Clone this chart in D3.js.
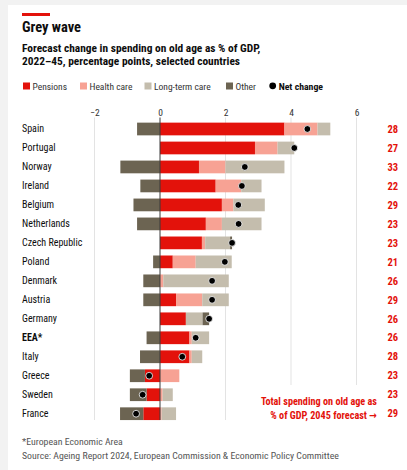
<!DOCTYPE html>
<html>
<head>
<meta charset="utf-8">
<script src="https://cdn.jsdelivr.net/npm/d3@7"></script>
<style>
  html, body { margin: 0; padding: 0; background: #f2f2f2; }
  svg { display: block; }
  text { font-family: "Roboto Condensed", "Liberation Sans Narrow", "DejaVu Sans Condensed", Roboto, sans-serif; }
</style>
</head>
<body>
<svg id="chart" width="407" height="470"></svg>
<script>
// Countries, top to bottom
const countries = ["Spain", "Portugal", "Norway", "Ireland", "Belgium", "Netherlands",
  "Czech Republic", "Poland", "Denmark", "Austria", "Germany", "EEA*", "Italy",
  "Greece", "Sweden", "France"];

// Change in spending 2022-45, percentage points, by component
const pensions = [3.80, 2.90, 1.19, 1.70, 1.89, 1.40, 1.28, 0.39, 0.00, 0.49, 0.79, 0.90, 0.90, -0.46, -0.41, -0.51];
const healthCare = [1.01, 0.69, 0.81, 0.78, 0.35, 0.49, 0.10, 0.70, 0.10, 0.80, 0.00, 0.07, 0.07, 0.59, 0.08, 0.05];
const longTermCare = [0.39, 0.51, 1.80, 0.62, 0.96, 1.21, 0.76, 1.10, 2.00, 0.81, 0.51, 0.53, 0.32, 0.00, 0.31, 0.44];
const other = [-0.70, 0.00, -1.21, -0.60, -0.81, -0.70, 0.06, -0.21, -0.51, -0.51, 0.20, -0.41, -0.61, -0.46, -0.51, -0.71];
const netChange = [4.50, 4.10, 2.59, 2.50, 2.39, 2.40, 2.20, 1.98, 1.59, 1.59, 1.50, 1.09, 0.68, -0.33, -0.53, -0.73];

// Total spending on old age as % of GDP, 2045 forecast
const total2045 = [28, 27, 33, 22, 29, 23, 23, 21, 26, 29, 26, 26, 28, 23, 23, 29];

const xTicks = [-2, 0, 2, 4, 6];

const seriesKeys = ["pensions", "healthCare", "longTermCare", "other"];
const seriesNames = ["Pensions", "Health care", "Long-term care", "Other"];
const colors = {
  pensions: "#e3120b",
  healthCare: "#f7a294",
  longTermCare: "#c4bdad",
  other: "#6c6452"
};

const rows = countries.map((c, i) => ({
  country: c,
  pensions: pensions[i],
  healthCare: healthCare[i],
  longTermCare: longTermCare[i],
  other: other[i],
  net: netChange[i],
  total: total2045[i]
}));

const svg = d3.select("#chart");

// White card
svg.append("rect").attr("x", 8).attr("y", 5).attr("width", 399).attr("height", 465).attr("fill", "#ffffff");

// Header
svg.append("rect").attr("x", 22).attr("y", 13).attr("width", 28).attr("height", 3).attr("fill", "#e3120b");
svg.append("text").attr("x", 22).attr("y", 32)
  .attr("font-size", 14.5).attr("font-weight", 700).attr("fill", "#0d0d0d")
  .text("Grey wave");
const sub = svg.append("text").attr("font-size", 11.4).attr("font-weight", 700).attr("fill", "#0d0d0d");
sub.append("tspan").attr("x", 22).attr("y", 51.5).text("Forecast change in spending on old age as % of GDP,");
sub.append("tspan").attr("x", 22).attr("y", 65).text("2022\u201345, percentage points, selected countries");

// Legend
const legendX = [23, 80, 144.5, 226];
seriesKeys.forEach((k, i) => {
  svg.append("rect").attr("x", legendX[i]).attr("y", 82.5).attr("width", 7).attr("height", 7).attr("fill", colors[k]);
  svg.append("text").attr("x", legendX[i] + 9.5).attr("y", 89.5)
    .attr("font-size", 9.5).attr("fill", "#333").text(seriesNames[i]);
});
svg.append("circle").attr("cx", 272.7).attr("cy", 85.8).attr("r", 3.4).attr("fill", "#000");
svg.append("text").attr("x", 278.7).attr("y", 89.5)
  .attr("font-size", 9.8).attr("font-weight", 700).attr("fill", "#0d0d0d").text("Net change");

// Scales
const x = d3.scaleLinear().domain([-2, 6]).range([94.5, 356.5]);
const y = d3.scaleBand().domain(countries).range([119.5, 423.2]).paddingInner(0.33).paddingOuter(0.165);

// Gridlines and tick labels
const gridBottom = v => (v >= 4 ? 385 : 420);
svg.append("g").selectAll("line").data(xTicks.filter(v => v !== 0)).join("line")
  .attr("x1", d => x(d)).attr("x2", d => x(d))
  .attr("y1", 117.5).attr("y2", d => gridBottom(d))
  .attr("stroke", "#e3e3e3").attr("stroke-width", 1);

const xAxis = d3.axisTop(x).tickValues(xTicks).tickSize(0).tickPadding(0).tickFormat(d3.format("d"));
const axisG = svg.append("g").attr("transform", "translate(0,116)").call(xAxis);
axisG.select(".domain").remove();
axisG.selectAll("text").attr("font-size", 9.5).attr("fill", "#333")
  .attr("font-family", null).attr("dy", "-0.05em");

// Stacked bars (diverging around zero)
const stack = d3.stack().keys(seriesKeys).offset(d3.stackOffsetDiverging);
const stacked = stack(rows);

svg.append("g").selectAll("g").data(stacked).join("g")
  .attr("fill", d => colors[d.key])
  .selectAll("rect").data(d => d).join("rect")
  .attr("x", d => x(Math.min(d[0], d[1])))
  .attr("width", d => Math.abs(x(d[1]) - x(d[0])))
  .attr("y", d => y(d.data.country))
  .attr("height", y.bandwidth());

// Zero line
svg.append("line").attr("x1", x(0)).attr("x2", x(0)).attr("y1", 117.5).attr("y2", 420)
  .attr("stroke", "#3a3a3a").attr("stroke-width", 1);

// Net change dots
svg.append("g").selectAll("circle").data(rows).join("circle")
  .attr("cx", d => x(d.net))
  .attr("cy", d => y(d.country) + y.bandwidth() / 2)
  .attr("r", 3.4)
  .attr("fill", "#000").attr("stroke", "#fff").attr("stroke-width", 0.8);

// Country labels
svg.append("g").selectAll("text").data(rows).join("text")
  .attr("x", 22)
  .attr("y", d => y(d.country) + y.bandwidth() / 2 + 3.5)
  .attr("font-size", 10)
  .attr("font-weight", d => d.country === "EEA*" ? 700 : 400)
  .attr("fill", "#0d0d0d")
  .text(d => d.country);

// 2045 totals
svg.append("g").selectAll("text").data(rows).join("text")
  .attr("x", 398)
  .attr("y", d => y(d.country) + y.bandwidth() / 2 + 3.7)
  .attr("text-anchor", "end")
  .attr("font-size", 10.5).attr("font-weight", 700).attr("fill", "#e3120b")
  .text(d => d.total);

// Annotation for the totals column
const note = svg.append("text").attr("text-anchor", "end")
  .attr("font-size", 10.2).attr("font-weight", 700).attr("fill", "#e3120b");
note.append("tspan").attr("x", 377).attr("y", 405.3).text("Total spending on old age as");
note.append("tspan").attr("x", 377).attr("y", 419.3).text("% of GDP, 2045 forecast \u2192");

// Footnotes
svg.append("text").attr("x", 22).attr("y", 444.5).attr("font-size", 9.8).attr("fill", "#555")
  .text("*European Economic Area");
svg.append("text").attr("x", 22).attr("y", 459).attr("font-size", 9.8).attr("fill", "#555")
  .text("Source: Ageing Report 2024, European Commission & Economic Policy Committee");
</script>
</body>
</html>
